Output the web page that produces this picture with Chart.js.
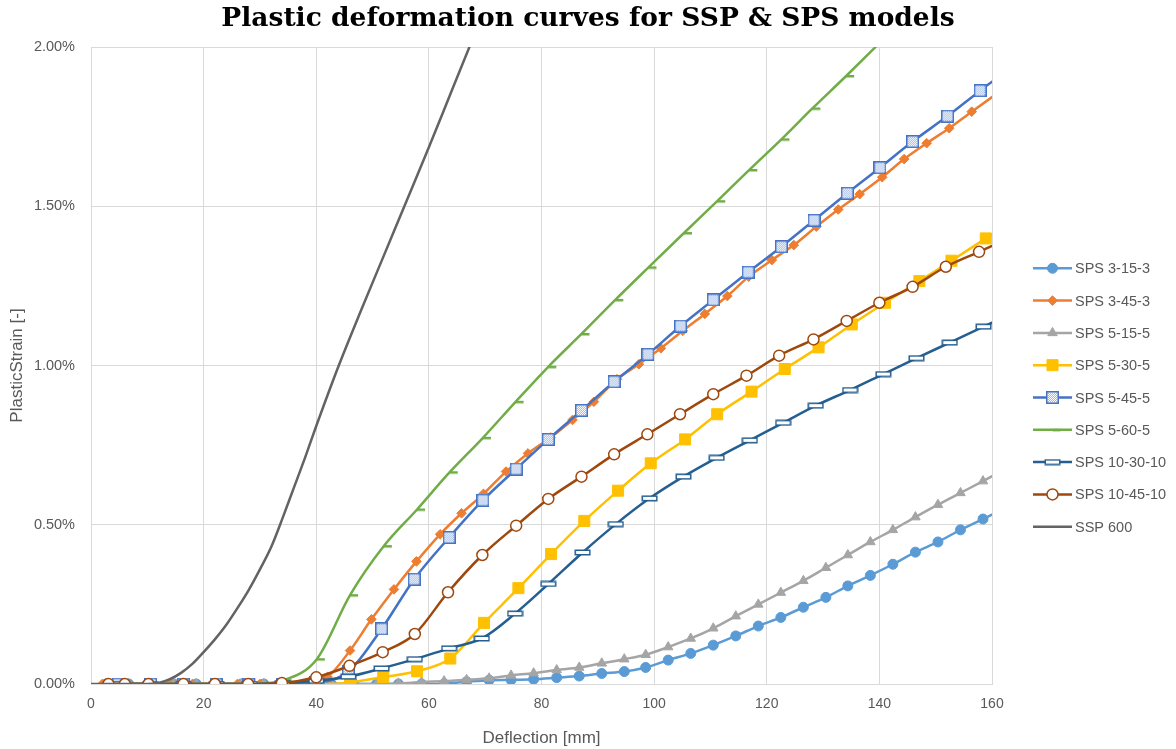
<!DOCTYPE html>
<html>
<head>
<meta charset="utf-8">
<script src="https://cdn.jsdelivr.net/npm/chart.js@4/dist/chart.umd.min.js"></script>
<style>
  html, body { margin: 0; padding: 0; background: #ffffff; }
  canvas { display: block; }
</style>
</head>
<body>
<canvas id="c" width="1176" height="749"></canvas>
<script>
// ---------- Data (deflection in mm, plastic strain in %) ----------
const seriesNames = ["SPS 3-15-3", "SPS 3-45-3", "SPS 5-15-5", "SPS 5-30-5", "SPS 5-45-5", "SPS 5-60-5", "SPS 10-30-10", "SPS 10-45-10", "SSP 600"];

const xTicks = [0, 20, 40, 60, 80, 100, 120, 140, 160];
const yTicks = [0, 0.5, 1.0, 1.5, 2.0];

const defl_3_15_3 = [2.7, 6.7, 10.7, 14.7, 18.7, 22.7, 26.7, 30.7, 34.7, 38.7, 42.7, 46.7, 50.7, 54.6, 58.7, 62.7, 66.7, 70.7, 74.6, 78.6, 82.7, 86.7, 90.7, 94.7, 98.5, 102.5, 106.5, 110.5, 114.5, 118.5, 122.5, 126.5, 130.5, 134.4, 138.4, 142.4, 146.4, 150.4, 154.4, 158.4, 162.4];
const strain_3_15_3 = [0, 0, 0, 0, 0, 0, 0, 0, 0, 0, 0, 0, 0, 0, 0, 0.001, 0.007, 0.012, 0.013, 0.015, 0.02, 0.025, 0.033, 0.039, 0.052, 0.075, 0.096, 0.122, 0.151, 0.182, 0.209, 0.241, 0.272, 0.308, 0.341, 0.376, 0.414, 0.446, 0.484, 0.518, 0.553];

const defl_3_45_3 = [2, 6, 10, 14, 18, 22, 26, 30, 34, 38, 42, 46.0, 49.8, 53.8, 57.8, 62.0, 65.8, 69.7, 73.7, 77.6, 81.6, 85.5, 89.3, 93.4, 97.3, 101.2, 105.1, 109.0, 113.0, 116.8, 120.9, 124.8, 128.8, 132.7, 136.5, 140.5, 144.4, 148.4, 152.4, 156.4, 164.0];
const strain_3_45_3 = [0, 0, 0, 0, 0, 0, 0, 0, 0, 0, 0.022, 0.105, 0.203, 0.297, 0.385, 0.47, 0.536, 0.597, 0.667, 0.724, 0.774, 0.829, 0.886, 0.957, 1.004, 1.054, 1.109, 1.162, 1.218, 1.279, 1.331, 1.378, 1.436, 1.49, 1.538, 1.591, 1.648, 1.698, 1.745, 1.797, 1.893];

const defl_5_15_5 = [2.7, 6.7, 10.7, 14.7, 18.7, 22.7, 26.7, 30.7, 34.7, 38.7, 42.7, 46.7, 50.7, 54.6, 58.7, 62.7, 66.7, 70.7, 74.6, 78.6, 82.7, 86.7, 90.7, 94.7, 98.5, 102.5, 106.5, 110.5, 114.5, 118.5, 122.5, 126.5, 130.5, 134.4, 138.4, 142.4, 146.4, 150.4, 154.4, 158.4, 162.4];
const strain_5_15_5 = [0, 0, 0, 0, 0, 0, 0, 0, 0, 0, 0, 0, 0, 0.002, 0.006, 0.009, 0.013, 0.018, 0.027, 0.034, 0.044, 0.052, 0.065, 0.078, 0.092, 0.116, 0.143, 0.175, 0.213, 0.25, 0.287, 0.324, 0.365, 0.405, 0.446, 0.484, 0.524, 0.563, 0.6, 0.637, 0.675];

const defl_5_30_5 = [4.8, 10.6, 16.4, 22.3, 28.2, 34.2, 40.1, 46.0, 51.9, 57.9, 63.8, 69.8, 75.9, 81.7, 87.6, 93.6, 99.4, 105.5, 111.2, 117.3, 123.2, 129.2, 135.1, 141.0, 147.1, 152.8, 158.9, 164.8];
const strain_5_30_5 = [0, 0, 0, 0, 0, 0, 0, 0.005, 0.022, 0.04, 0.08, 0.192, 0.301, 0.408, 0.512, 0.607, 0.693, 0.768, 0.847, 0.918, 0.989, 1.057, 1.129, 1.197, 1.265, 1.329, 1.399, 1.465];

const defl_5_45_5 = [4.8, 10.6, 16.4, 22.2, 28.0, 34.0, 39.8, 45.7, 51.6, 57.4, 63.6, 69.6, 75.5, 81.2, 87.1, 92.9, 98.9, 104.7, 110.5, 116.7, 122.6, 128.4, 134.3, 140.1, 145.9, 152.1, 157.9, 163.8];
const strain_5_45_5 = [0, 0, 0, 0, 0, 0, 0.004, 0.039, 0.173, 0.329, 0.46, 0.577, 0.675, 0.768, 0.859, 0.949, 1.035, 1.124, 1.206, 1.293, 1.373, 1.456, 1.541, 1.621, 1.703, 1.783, 1.863, 1.94];

const defl_5_60_5 = [4.8, 10.7, 16.6, 22.5, 28.3, 34.2, 40.1, 46.0, 52.0, 57.9, 63.7, 69.6, 75.4, 81.2, 87.1, 93.1, 99.0, 105.3, 111.2, 116.9, 122.6, 128.1, 134.1, 140.0];
const strain_5_60_5 = [0, 0, 0, 0, 0, 0.012, 0.078, 0.279, 0.433, 0.548, 0.665, 0.773, 0.886, 0.996, 1.099, 1.206, 1.308, 1.416, 1.516, 1.614, 1.71, 1.807, 1.909, 2.012];

const defl_10_30_10 = [4.8, 10.6, 16.4, 22.3, 28.2, 34.0, 40.0, 45.7, 51.6, 57.5, 63.6, 69.4, 75.3, 81.2, 87.3, 93.2, 99.2, 105.2, 111.1, 117.0, 122.9, 128.7, 134.8, 140.7, 146.6, 152.5, 158.5, 164.4];
const strain_10_30_10 = [0, 0, 0, 0, 0, 0.003, 0.01, 0.023, 0.049, 0.078, 0.112, 0.143, 0.221, 0.314, 0.413, 0.502, 0.583, 0.651, 0.71, 0.765, 0.82, 0.874, 0.923, 0.973, 1.023, 1.072, 1.122, 1.17];

const defl_10_45_10 = [3.1, 6.0, 10.2, 16.4, 22.0, 27.9, 33.9, 40.0, 45.9, 51.8, 57.5, 63.4, 69.5, 75.5, 81.2, 87.1, 92.9, 98.8, 104.6, 110.5, 116.4, 122.2, 128.3, 134.2, 140.0, 145.9, 151.8, 157.7, 163.6];
const strain_10_45_10 = [0, 0, 0, 0, 0, 0, 0.003, 0.021, 0.057, 0.1, 0.157, 0.288, 0.405, 0.497, 0.581, 0.651, 0.721, 0.784, 0.847, 0.91, 0.968, 1.031, 1.082, 1.14, 1.197, 1.247, 1.31, 1.357, 1.405];

const defl_ssp600 = [0, 4, 8, 10, 12, 14, 16, 18, 20, 22, 24, 26, 28, 30, 32, 34, 36, 38, 40, 44, 48, 52, 56, 60, 64, 68];
const strain_ssp600 = [0, 0, 0, 0, 0.003, 0.015, 0.035, 0.063, 0.1, 0.14, 0.185, 0.238, 0.295, 0.36, 0.43, 0.52, 0.615, 0.71, 0.81, 1.0, 1.175, 1.345, 1.515, 1.685, 1.86, 2.035];

// ---------- Marker images ----------
function makeCanvas(w, h, draw) {
  const c = document.createElement('canvas');
  c.width = w; c.height = h;
  draw(c.getContext('2d'));
  return c;
}
const patternSquare = makeCanvas(13, 13, (g) => {
  g.fillStyle = '#ffffff';
  g.fillRect(0, 0, 13, 13);
  g.fillStyle = '#9db8e6';
  for (let i = 2; i < 11; i++) for (let j = 2; j < 11; j++) if ((i + j) % 2 === 0) g.fillRect(i, j, 1, 1);
  g.strokeStyle = '#4472c4';
  g.lineWidth = 1.6;
  g.strokeRect(0.8, 0.8, 11.4, 11.4);
});
const dashRect = makeCanvas(17, 7, (g) => {
  g.fillStyle = '#ffffff';
  g.fillRect(1, 1, 15, 5);
  g.strokeStyle = '#255e91';
  g.lineWidth = 1.5;
  g.strokeRect(1.25, 1.25, 14.5, 4.5);
});
const greenDash = makeCanvas(20, 6, (g) => {
  g.fillStyle = '#70ad47';
  g.fillRect(10, 2, 8, 2.5);
});

// ---------- Chart ----------
function pts(xs, ys) { return xs.map((x, i) => ({ x: x, y: ys[i] })); }

const styles = [
  { color: '#5b9bd5', pointStyle: 'circle', radius: 5, bg: '#5b9bd5', bw: 1 },
  { color: '#ed7d31', pointStyle: 'rectRot', radius: 4.8, bg: '#ed7d31', bw: 1 },
  { color: '#a5a5a5', pointStyle: 'triangle', radius: 5.5, bg: '#a5a5a5', bw: 1 },
  { color: '#ffc000', pointStyle: 'rect', radius: 7.8, bg: '#ffc000', bw: 1 },
  { color: '#4472c4', pointStyle: patternSquare, radius: 6, bg: '#ffffff', bw: 1 },
  { color: '#70ad47', pointStyle: greenDash, radius: 5, bg: '#70ad47', bw: 1 },
  { color: '#255e91', pointStyle: dashRect, radius: 5, bg: '#ffffff', bw: 1 },
  { color: '#9e480e', pointStyle: 'circle', radius: 5.5, bg: '#ffffff', bw: 1.5 },
  { color: '#636363', pointStyle: false, radius: 0, bg: '#636363', bw: 0 }
];
const seriesData = [
  pts(defl_3_15_3, strain_3_15_3),
  pts(defl_3_45_3, strain_3_45_3),
  pts(defl_5_15_5, strain_5_15_5),
  pts(defl_5_30_5, strain_5_30_5),
  pts(defl_5_45_5, strain_5_45_5),
  pts(defl_5_60_5, strain_5_60_5),
  pts(defl_10_30_10, strain_10_30_10),
  pts(defl_10_45_10, strain_10_45_10),
  pts(defl_ssp600, strain_ssp600)
];

const datasets = seriesNames.map((name, i) => ({
  label: name,
  data: seriesData[i],
  borderColor: styles[i].color,
  backgroundColor: styles[i].bg,
  borderWidth: 2.5,
  pointStyle: styles[i].pointStyle,
  pointRadius: styles[i].radius,
  pointBackgroundColor: styles[i].bg,
  pointBorderColor: styles[i].color,
  pointBorderWidth: styles[i].bw,
  pointHoverRadius: styles[i].radius,
  cubicInterpolationMode: 'monotone',
  fill: false,
  order: seriesNames.length - i
}));

const TEXT = '#595959';
const GRID = '#d9d9d9';
const SANS = '"Liberation Sans", Arial, sans-serif';

const legendPlugin = {
  id: 'sideLegend',
  afterDraw(chart) {
    const ctx = chart.ctx;
    const x0 = 1033, y0 = 268.3, dy = 32.3, len = 39;
    ctx.save();
    chart.data.datasets.forEach((ds, i) => {
      const y = y0 + i * dy;
      ctx.strokeStyle = ds.borderColor;
      ctx.lineWidth = 2.5;
      ctx.beginPath();
      ctx.moveTo(x0, y);
      ctx.lineTo(x0 + len, y);
      ctx.stroke();
      if (ds.pointStyle) {
        ctx.fillStyle = ds.pointBackgroundColor;
        ctx.strokeStyle = ds.pointBorderColor;
        ctx.lineWidth = ds.pointBorderWidth;
        Chart.helpers.drawPoint(ctx, {
          pointStyle: ds.pointStyle,
          radius: ds.pointRadius,
          rotation: 0,
          borderWidth: ds.pointBorderWidth
        }, x0 + len / 2, y);
      }
      ctx.fillStyle = TEXT;
      ctx.font = '14.5px ' + SANS;
      ctx.textBaseline = 'middle';
      ctx.textAlign = 'left';
      ctx.fillText(ds.label, x0 + len + 3, y + 1);
    });
    ctx.restore();
  }
};

new Chart(document.getElementById('c'), {
  type: 'line',
  data: { datasets: datasets },
  options: {
    responsive: false,
    animation: false,
    devicePixelRatio: 1,
    layout: { padding: { left: 0, right: 0, top: 0, bottom: 0 } },
    plugins: {
      legend: { display: false },
      tooltip: { enabled: false },
      title: {
        display: true,
        text: 'Plastic deformation curves for SSP & SPS models',
        color: '#000000',
        font: { family: '"DejaVu Serif", "Liberation Serif", serif', size: 26.5, weight: 'bold', lineHeight: 1.2 },
        padding: { top: 3, bottom: 12.2 }
      }
    },
    scales: {
      x: {
        type: 'linear',
        min: xTicks[0],
        max: xTicks[xTicks.length - 1],
        afterBuildTicks: (scale) => { scale.ticks = xTicks.map(v => ({ value: v })); },
        afterFit: (scale) => { scale.height = 65; },
        grid: { color: GRID, lineWidth: 1, drawTicks: false },
        border: { display: true, color: GRID, width: 1 },
        ticks: { color: TEXT, padding: 12, font: { family: SANS, size: 14 }, maxRotation: 0 },
        title: {
          display: true,
          text: 'Deflection [mm]',
          color: TEXT,
          font: { family: SANS, size: 17 },
          padding: { top: 4, bottom: 0 }
        }
      },
      y: {
        type: 'linear',
        position: 'left',
        min: yTicks[0],
        max: yTicks[yTicks.length - 1],
        afterBuildTicks: (scale) => { scale.ticks = yTicks.map(v => ({ value: v })); },
        afterFit: (scale) => { scale.width = 91; },
        grid: { color: GRID, lineWidth: 1, drawTicks: false },
        border: { display: true, color: GRID, width: 1 },
        ticks: {
          color: TEXT,
          padding: 16,
          font: { family: SANS, size: 14.5 },
          callback: (v) => Number(v).toFixed(2) + '%'
        },
        title: {
          display: true,
          text: 'PlasticStrain [-]',
          color: TEXT,
          font: { family: SANS, size: 17 },
          padding: { top: 7, bottom: 0 }
        }
      },
      legendSpace: {
        type: 'linear',
        position: 'right',
        display: true,
        afterFit: (scale) => { scale.width = 184; },
        grid: { display: false, drawTicks: false },
        border: { display: false },
        ticks: { display: false }
      }
    }
  },
  plugins: [legendPlugin]
});
</script>
</body>
</html>
